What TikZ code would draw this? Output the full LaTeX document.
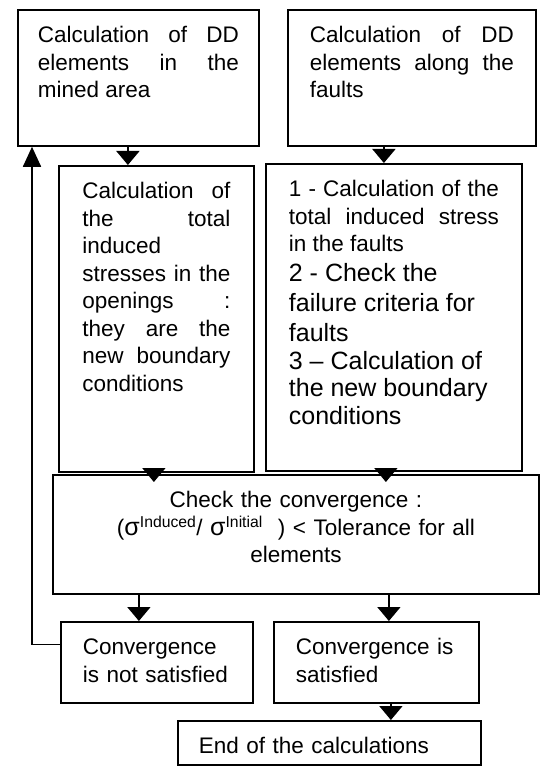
\documentclass[tikz,border=0pt]{standalone}
\usepackage{fontspec}
\setmainfont{Liberation Sans}
\usetikzlibrary{arrows.meta}
\hyphenpenalty=10000
\tikzset{
>={Triangle[width=23pt,length=14pt]}, % big filled heads, as in the scan
block/.style={draw, line width=1.8pt, anchor=north west, inner xsep=20pt, inner ysep=17pt, text height=16pt, font=\fontsize{22.5}{27.5}\selectfont, align=justify}, % text sits at the top of each box
flow/.style={->, line width=1.8pt}, % plain downward connector
}
\begin{document}
\begin{tikzpicture}[x=1pt, y=-1pt]
            \useasboundingbox (0,0) rectangle (539,767);
            % first row
            \node[block, text width=201pt, text depth=86pt] (mined) at (17,9) {Calculation of DD\linebreak elements in the\linebreak mined area};
            \node[block, inner xsep=22pt, text width=204pt, text depth=86pt] (faults) at (287,9) {Calculation of DD\linebreak elements along the\linebreak faults};
            % second row
            \node[block, inner xsep=23.5pt, text width=148pt, text depth=256pt] (openings) at (58,165) {Calculation of\linebreak the total\linebreak induced\linebreak stresses in the\linebreak openings :\linebreak they are the\linebreak new boundary\linebreak conditions};
            \node[block, inner xsep=23pt, text width=210pt, text depth=257pt] (stress) at (265,163) {1 - Calculation of the\linebreak total induced stress\linebreak in the faults\par
                \fontsize{25}{30}\selectfont 2 - Check the\newline failure criteria for\newline faults\par
                3 -- Calculation of\newline the new boundary\newline conditions};
            % convergence test
            \node[block, text width=446pt, text depth=69pt, align=center] (check) at (52,474) {Check the convergence :\\
                ({\fontsize{25}{27.5}\selectfont σ}\textsuperscript{Induced}/ {\fontsize{25}{27.5}\selectfont σ}\textsuperscript{Initial} \ ) < Tolerance for all\\
                elements};
            \node[block, inner xsep=22pt, text width=148pt, text depth=31pt, align=left] (notsat) at (60,621) {Convergence is not satisfied};
            \node[block, inner xsep=22pt, text width=161pt, text depth=31pt, align=left] (sat) at (273,621) {Convergence is satisfied};
            \node[block, inner xsep=21pt, inner ysep=8pt, text width=261pt, text height=25pt, text depth=3pt, align=left] (end) at (177,720) {End of the calculations};
            % connectors
            \draw[flow] ([xshift=-10.5pt]mined.south) -- ([xshift=-10.5pt]mined.south |- openings.north);
            \draw[flow] ([xshift=-28pt]faults.south) -- ([xshift=-28pt]faults.south |- stress.north);
            \draw[flow] ([xshift=-2.5pt]openings.south) -- ([xshift=-2.5pt, yshift=-8pt]openings.south |- check.north);
            \draw[flow] ([xshift=-8pt]stress.south) -- ([xshift=-8pt, yshift=-8pt]stress.south |- check.north);
            \draw[flow] ([xshift=-18pt]notsat.north |- check.south) -- ([xshift=-18pt]notsat.north);
            \draw[flow] ([xshift=12.5pt]sat.north |- check.south) -- ([xshift=12.5pt]sat.north);
            \draw[flow] ([xshift=14.5pt]sat.south) -- ([xshift=14.5pt]sat.south |- end.north);
            % back to the start when not converged
            \draw[line width=1.8pt, -{Triangle[width=18pt,length=20pt]}] ([yshift=18pt]notsat.west) -| ([xshift=15pt]mined.south west);
        \end{tikzpicture}
\end{document}
